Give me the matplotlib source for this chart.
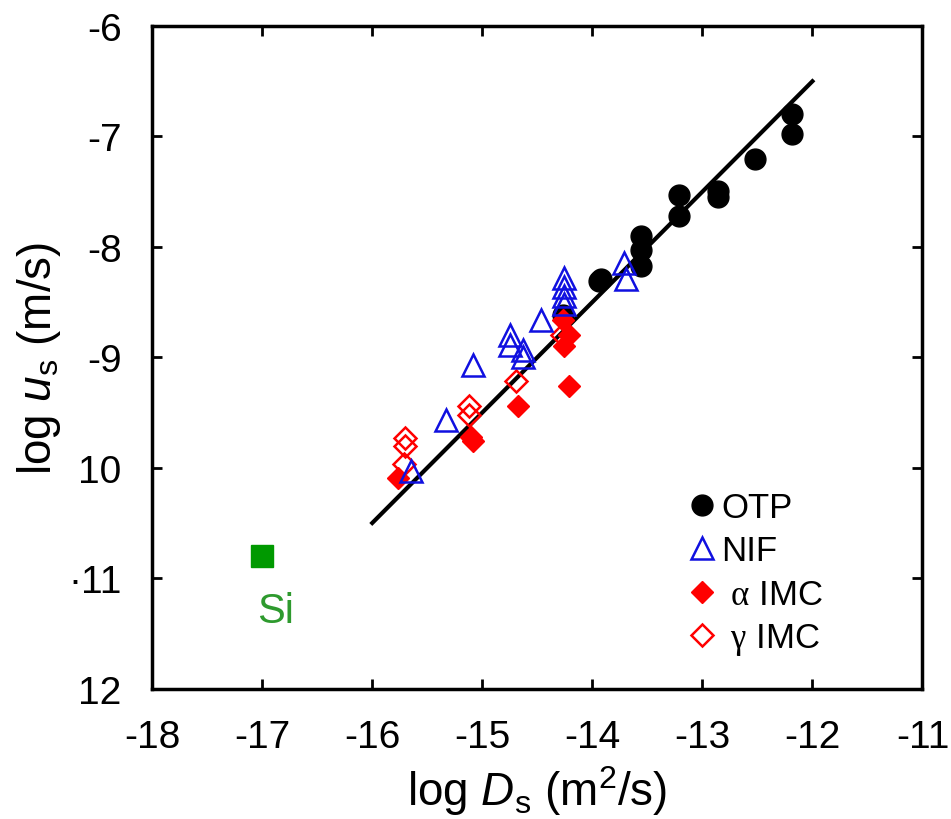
import matplotlib
matplotlib.use("Agg")
import matplotlib.pyplot as plt

plt.rcParams['font.family'] = ['Liberation Sans', 'DejaVu Sans']
plt.rcParams['mathtext.fontset'] = 'custom'
plt.rcParams['mathtext.rm'] = 'Liberation Sans'
plt.rcParams['mathtext.it'] = 'Liberation Sans:italic'
plt.rcParams['mathtext.sf'] = 'Liberation Serif'

# OTP (filled black circles)
otp_x = [-12.19, -12.19, -12.52, -12.86, -12.86, -13.21, -13.21, -13.56, -13.56, -13.56, -13.92, -13.94, -14.27]
otp_y = [-6.80, -6.98, -7.20, -7.49, -7.55, -7.53, -7.72, -7.90, -8.03, -8.17, -8.29, -8.31, -8.62]

# NIF (open blue triangles)
nif_x = [-14.26, -14.26, -14.26, -14.26, -14.47, -14.75, -14.75, -14.63, -14.63, -15.08, -15.33, -15.65, -13.71, -13.69]
nif_y = [-8.28, -8.36, -8.44, -8.52, -8.66, -8.80, -8.89, -8.93, -9.00, -9.07, -9.57, -10.03, -8.15, -8.29]

# alpha IMC (filled red diamonds)
alpha_x = [-15.77, -15.10, -15.08, -14.68, -14.21, -14.27, -14.21, -14.26]
alpha_y = [-10.09, -9.72, -9.76, -9.44, -9.26, -8.66, -8.80, -8.90]

# gamma IMC (open red diamonds)
gamma_x = [-15.70, -15.70, -15.71, -15.12, -15.12, -14.69, -14.28]
gamma_y = [-9.73, -9.80, -9.97, -9.44, -9.52, -9.21, -8.80]

# Si point
si_x = [-17.0]
si_y = [-10.8]

# fitted line
fit_x = [-16, -12]
fit_y = [-10.5, -6.5]

xticks = [-18, -17, -16, -15, -14, -13, -12, -11]
xtick_labels = ['-18', '-17', '-16', '-15', '-14', '-13', '-12', '-11']
yticks = [-6, -7, -8, -9, -10, -11, -12]
ytick_labels = ['-6', '-7', '-8', '-9', '10', '\u00b711', '12']

fig = plt.figure(figsize=(9.51, 8.2), dpi=100)
ax = fig.add_axes([0.160, 0.159, 0.810, 0.808])

ax.plot(fit_x, fit_y, color='black', lw=3, zorder=2)

ax.plot(otp_x, otp_y, 'o', color='black', ms=15, ls='none', label='OTP', zorder=3)
ax.plot(nif_x, nif_y, '^', mfc='none', mec='#1010e0', mew=1.8, ms=16, ls='none', label='NIF', zorder=4)
ax.plot(alpha_x, alpha_y, 'D', color='red', ms=11, ls='none', label=r' $\mathsf{\alpha}$ IMC', zorder=3)
ax.plot(gamma_x, gamma_y, 'D', mfc='none', mec='red', mew=1.8, ms=11, ls='none', label=r' $\mathsf{\gamma}$ IMC', zorder=3)

ax.plot(si_x, si_y, 's', color='#009900', ms=16, ls='none', zorder=3)
ax.text(-16.88, -11.3, 'Si', color='#2e9a2e', fontsize=30, ha='center', va='center')

ax.set_xlim(-18, -11)
ax.set_ylim(-12, -6)
ax.set_xticks(xticks)
ax.set_xticklabels(xtick_labels)
ax.set_yticks(yticks)
ax.set_yticklabels(ytick_labels)
ax.tick_params(direction='in', length=7, width=2, labelsize=28, top=True, right=True, pad=22)
for s in ax.spines.values():
    s.set_linewidth(2.5)

ax.set_xlabel(r'log $D_\mathrm{s}$ (m$^2$/s)', fontsize=33, labelpad=6)
ax.set_ylabel(r'log $u_\mathrm{s}$ (m/s)', fontsize=33, labelpad=4)

ax.legend(loc='upper left', bbox_to_anchor=(0.66, 0.335), frameon=False, fontsize=25,
          handletextpad=0.05, labelspacing=0.3, handlelength=1.0, borderpad=0.2)

fig.savefig('out.png', dpi=100)
